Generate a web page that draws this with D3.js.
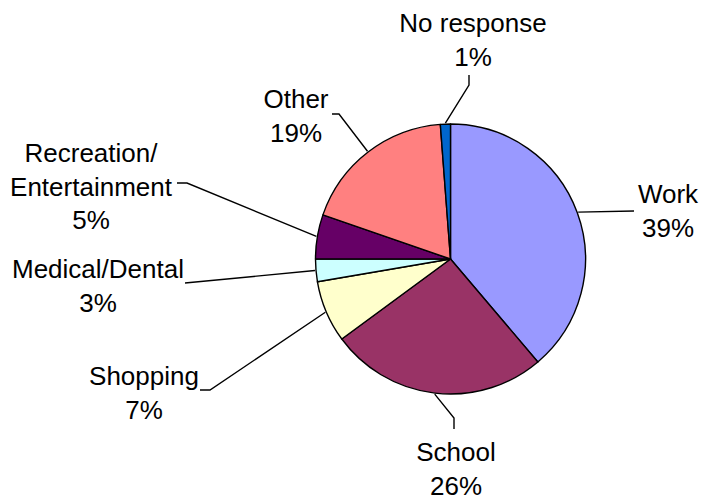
<!DOCTYPE html>
<html>
<head>
<meta charset="utf-8">
<script src="https://cdn.jsdelivr.net/npm/d3@7"></script>
<style>
  html, body { margin: 0; padding: 0; background: #fff; }
  svg { display: block; }
  text { font-family: Arial, "Liberation Sans", sans-serif; font-size: 26px; fill: #000; }
</style>
</head>
<body>
<svg id="chart" width="707" height="499"></svg>
<script>
// ---- data ----
const categories = ["Work", "School", "Shopping", "Medical/Dental", "Recreation/\nEntertainment", "Other", "No response"];
const values = [38.8, 26.1, 7.4, 2.7, 5.3, 18.5, 1.2];
const percentLabels = ["39%", "26%", "7%", "3%", "5%", "19%", "1%"];
const colors = ["#9999FF", "#993366", "#FFFFCC", "#CCFFFF", "#660066", "#FF8080", "#0066CC"];

// ---- layout (label placement: leader elbow/end points, text anchor) ----
const labelLayout = [
  { pts: [[634, 211]], tx: 668, ty: 203 },
  { pts: [[454, 418], [454, 429]], tx: 456, ty: 461 },
  { pts: [[210, 390], [200, 390]], tx: 144, ty: 385 },
  { pts: [[185, 283]], tx: 98, ty: 278 },
  { pts: [[187, 183], [177, 183]], tx: 91, ty: 162 },
  { pts: [[339, 114], [332, 114]], tx: 296, ty: 108 },
  { pts: [[469, 85], [469, 75]], tx: 473, ty: 32 }
];
const lineH = 33.5;

const cx = 450.5, cy = 259, r = 135;

const svg = d3.select("#chart");
const g = svg.append("g").attr("transform", `translate(${cx},${cy})`);

const pie = d3.pie().sort(null).value(d => d);
const arcs = pie(values);
const arc = d3.arc().innerRadius(0).outerRadius(r);

g.selectAll("path.slice")
  .data(arcs)
  .join("path")
  .attr("class", "slice")
  .attr("d", arc)
  .attr("fill", (d, i) => colors[i])
  .attr("stroke", "#000")
  .attr("stroke-width", 1.4)
  .attr("stroke-linejoin", "round");

// leader lines
const line = d3.line();
arcs.forEach((a, i) => {
  const mid = (a.startAngle + a.endAngle) / 2;
  const sx = cx + (r + 1) * Math.sin(mid);
  const sy = cy - (r + 1) * Math.cos(mid);
  const pts = [[sx, sy]].concat(labelLayout[i].pts);
  svg.append("path")
    .attr("d", line(pts))
    .attr("fill", "none")
    .attr("stroke", "#000")
    .attr("stroke-width", 1.4);
});

// labels
categories.forEach((c, i) => {
  const L = labelLayout[i];
  const lines = c.split("\n").concat([percentLabels[i]]);
  const t = svg.append("text").attr("text-anchor", "middle");
  lines.forEach((s, k) => {
    t.append("tspan").attr("x", L.tx).attr("y", L.ty + k * lineH).text(s);
  });
});
</script>
</body>
</html>
